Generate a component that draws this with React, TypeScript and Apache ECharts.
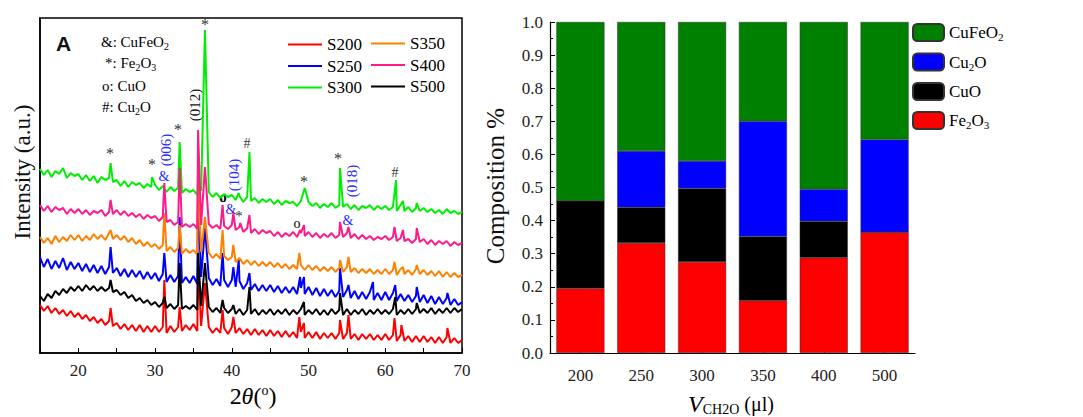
import React, { useEffect, useRef } from "react";
import * as echarts from "echarts";

// ---------- Panel A: XRD patterns (arbitrary intensity units, offset stacked) ----------
const X_START = 15;
const X_STEP = 0.5;
const GRID_X = Array.from({ length: 111 }, (_, i) => X_START + i * X_STEP);

const S300_BASE = [
  184,178,183,176,182,179,185,175,180,177,
  179,173,178,172,177,170,176,173,175,171,
  173,167,172,166,171,168,170,165,169,166,
  168,163,167,161,166,162,165,160,164,161,
  163,158,162,157,161,156,160,155,159,156,
  158,153,157,151,156,152,155,150,154,151,
  154,149,153,148,152,150,151,147,152,149,
  151,147,150,145,149,146,150,145,148,146,
  149,144,148,143,147,145,148,143,147,144,
  147,143,146,142,148,142,146,141,145,142,
  145,141,144,140,143,139,144,140,142,139,
  141,
];
const S300_PEAKS = [[24.2,190],[29.6,176],[33.2,211],[35.6,172],[36.5,323],[40.9,160],[42.3,201],[49.5,165],[54.1,185],[61.4,173],[62.3,152],[64.1,150]];

const S400_BASE = [
  148,142,147,141,146,143,145,139,144,140,
  144,139,143,138,142,140,143,137,141,139,
  143,138,142,137,140,136,139,134,138,135,
  137,132,136,131,133,128,131,126,129,126,
  129,124,128,125,129,125,128,124,127,124,
  128,123,126,121,125,120,124,119,123,120,
  122,117,121,116,120,117,121,116,120,117,
  121,116,120,115,119,116,120,115,118,116,
  120,115,119,114,118,114,117,113,116,114,
  117,113,116,112,115,112,114,110,114,111,
  114,109,113,108,112,109,112,107,111,108,
  110,
];
const S400_PEAKS = [[24.2,153],[31.2,170],[33.2,185],[35.6,223],[36.5,186],[38.8,148],[40.2,140],[41.1,130],[42.3,138],[48.9,123],[49.4,128],[54.1,131],[55.2,126],[61.2,126],[62.3,123],[64.1,125]];

const S350_BASE = [
  116,110,115,109,117,111,116,112,118,113,
  118,112,117,113,119,114,118,113,120,114,
  118,113,117,111,115,109,113,107,111,106,
  109,104,108,102,106,101,105,99,104,100,
  103,98,101,96,100,95,99,94,97,93,
  96,91,95,89,93,88,92,87,91,87,
  91,86,90,85,89,84,88,84,88,83,
  88,83,87,82,86,82,86,81,85,81,
  86,81,85,80,84,80,84,79,83,79,
  84,79,83,78,84,79,83,78,84,79,
  83,78,82,77,82,76,81,76,80,76,
  78,
];
const S350_PEAKS = [[24.2,123],[31.2,140],[33.2,128],[35.6,173],[36.5,136],[38.8,123],[40.2,108],[48.8,100],[54.1,93],[55.2,96],[61.2,91],[62.3,86],[64.1,88]];

const S250_BASE = [
  96,86,94,84,92,85,95,83,91,84,
  90,82,89,81,88,80,87,79,86,80,
  85,77,84,76,83,76,82,74,81,74,
  80,72,79,71,78,71,77,70,76,70,
  77,69,76,68,75,68,74,67,73,66,
  73,66,72,64,70,63,69,62,68,62,
  68,61,67,60,66,60,66,59,65,59,
  66,58,65,57,64,57,63,56,62,56,
  63,55,62,54,61,54,61,53,60,53,
  61,53,60,52,59,52,58,51,57,51,
  58,50,57,49,56,49,55,48,54,48,
  51,
];
const S250_PEAKS = [[24.2,106],[31.2,100],[33.2,136],[35.6,160],[36.5,125],[38.8,100],[40.2,86],[40.9,93],[42.3,80],[48.9,76],[49.4,76],[54.1,85],[55.2,68],[58.4,71],[61.3,68],[64.1,66],[68.1,60]];

const S500_BASE = [
  57,52,59,55,62,58,64,60,66,62,
  67,62,68,63,67,62,66,62,65,61,
  63,58,61,55,58,52,55,50,53,48,
  51,46,50,45,49,44,48,44,47,44,
  48,43,47,42,46,41,45,40,45,40,
  44,39,44,38,43,39,44,38,43,39,
  44,38,43,39,44,38,43,39,44,38,
  43,39,44,38,43,38,44,39,43,38,
  44,38,43,39,44,38,43,39,44,39,
  43,39,44,38,43,39,44,39,44,40,
  44,40,45,39,44,40,45,40,45,41,
  44,
];
const S500_PEAKS = [[24.2,73],[31.2,56],[33.2,90],[35.6,100],[36.5,90],[38.8,53],[40.2,48],[42.3,66],[49.4,51],[54.1,60],[61.3,56],[64.1,50]];

const S200_BASE = [
  48,42,47,40,45,39,43,37,42,36,
  40,34,38,32,36,30,34,28,32,27,
  30,24,29,23,28,22,28,21,27,21,
  27,21,26,20,27,21,26,22,28,23,
  29,22,27,21,26,20,25,20,25,19,
  26,20,25,19,24,18,24,18,23,17,
  23,17,22,16,22,16,21,15,21,15,
  21,15,21,14,20,15,20,14,20,14,
  20,14,19,13,19,14,19,13,18,13,
  19,13,18,12,18,12,17,11,17,11,
  17,11,16,10,16,10,16,10,15,10,
  13,
];
const S200_PEAKS = [[24.2,45],[31.2,73],[33.2,46],[35.6,90],[36.5,70],[38.8,43],[40.2,36],[48.8,36],[49.4,30],[54.1,33],[55.2,38],[61.2,35],[62.1,28],[68.1,25]];

const XRD_NAMES = ["S200", "S250", "S300", "S350", "S400", "S500"];
const XRD_COLORS = ["#FF0000", "#0000FF", "#00EE00", "#FF8000", "#FF1A8C", "#000000"];
const XRD_BASES = [S200_BASE, S250_BASE, S300_BASE, S350_BASE, S400_BASE, S500_BASE];
const XRD_PEAKS = [S200_PEAKS, S250_PEAKS, S300_PEAKS, S350_PEAKS, S400_PEAKS, S500_PEAKS];
const X_TICKS_A = [20, 30, 40, 50, 60, 70];

// ---------- Panel B: composition ----------
const VOLUMES = ["200", "250", "300", "350", "400", "500"];
const FE2O3 = [0.195, 0.332, 0.275, 0.158, 0.288, 0.365];
const CUO = [0.265, 0.108, 0.222, 0.194, 0.11, 0];
const CU2O = [0, 0.17, 0.083, 0.348, 0.097, 0.28];
const CUFEO2 = [0.54, 0.39, 0.42, 0.3, 0.505, 0.355];

const SERIF = '"Liberation Serif", serif';
const FAM = "Liberation Serif";

function mergePoints(base: number[], peaks: number[][]) {
  const pts: number[][] = GRID_X.map((x, i) => [x, base[i]]).filter(
    (p) => !peaks.some((k) => Math.abs(k[0] - p[0]) < 0.05)
  );
  return pts.concat(peaks.map((k) => [k[0], k[1]])).sort((a, b) => a[0] - b[0]);
}

function txt(x: number, y: number, text: string, color = "#000", size = 15, rot = 0, weight = "normal") {
  return {
    type: "text",
    x,
    y,
    rotation: rot,
    style: {
      text,
      fill: color,
      font: `${weight} ${size}px ${SERIF}`,
      align: "center",
      verticalAlign: "middle",
      textAlign: "center",
      textVerticalAlign: "middle",
    },
  };
}

const RICH_BASE = {
  n: { fontFamily: FAM, fontSize: 15, color: "#000" },
  s: { fontFamily: FAM, fontSize: 10, color: "#000", padding: [8, 0, 0, 0] },
};

export default function App() {
  const ref = useRef<HTMLDivElement>(null);
  useEffect(() => {
    if (!ref.current) return;
    const chart = echarts.init(ref.current, null, { renderer: "svg" });

    const xrdSeries = XRD_NAMES.map((name, i) => ({
      name,
      type: "line",
      xAxisIndex: 0,
      yAxisIndex: 0,
      symbol: "none",
      data: mergePoints(XRD_BASES[i], XRD_PEAKS[i]),
      lineStyle: { color: XRD_COLORS[i], width: 2 },
      itemStyle: { color: XRD_COLORS[i] },
      z: 2,
    }));

    const barCommon = {
      type: "bar",
      stack: "comp",
      xAxisIndex: 1,
      yAxisIndex: 1,
      barCategoryGap: "21%",
    };
    const barSeries = [
      { ...barCommon, name: "Fe2O3", data: FE2O3, itemStyle: { color: "#FF0000", borderColor: "#333", borderWidth: 0.5 } },
      { ...barCommon, name: "CuO", data: CUO, itemStyle: { color: "#000000", borderColor: "#333", borderWidth: 0.5 } },
      { ...barCommon, name: "Cu2O", data: CU2O, itemStyle: { color: "#0000FF", borderColor: "#333", borderWidth: 0.5 } },
      { ...barCommon, name: "CuFeO2", data: CUFEO2, itemStyle: { color: "#008000", borderColor: "#333", borderWidth: 0.5 } },
    ];

    const legendRich = {
      n: { fontFamily: FAM, fontSize: 17, color: "#000" },
      s: { fontFamily: FAM, fontSize: 11, color: "#000", padding: [9, 0, 0, 0] },
    };
    const legendFmt = (name: string) => {
      if (name === "CuFeO2") return "{n|CuFeO}{s|2}";
      if (name === "Cu2O") return "{n|Cu}{s|2}{n|O}";
      if (name === "Fe2O3") return "{n|Fe}{s|2}{n|O}{s|3}";
      return "{n|" + name + "}";
    };
    const xrdLegendCommon = {
      orient: "vertical",
      itemWidth: 34,
      itemHeight: 2,
      itemGap: 4.5,
      icon: "rect",
      textStyle: { fontFamily: FAM, fontSize: 17, lineHeight: 16, color: "#000" },
    };

    const option: any = {
      animation: false,
      backgroundColor: "#fff",
      textStyle: { fontFamily: FAM },
      grid: [
        { left: 40, top: 18, width: 422, height: 335, show: true, borderColor: "#000", borderWidth: 1.5, backgroundColor: "transparent" },
        { left: 550, top: 22, width: 365, height: 331 },
      ],
      legend: [
        { ...xrdLegendCommon, data: XRD_NAMES.slice(0, 3), left: 283, top: 31 },
        { ...xrdLegendCommon, data: XRD_NAMES.slice(3), left: 366, top: 30 },
        {
          data: ["CuFeO2", "Cu2O", "CuO", "Fe2O3"],
          orient: "vertical",
          left: 907,
          top: 18,
          itemWidth: 31,
          itemHeight: 17,
          itemGap: 10,
          formatter: legendFmt,
          textStyle: { fontFamily: FAM, fontSize: 17, color: "#000", rich: legendRich },
        },
      ],
      xAxis: [
        {
          type: "value",
          gridIndex: 0,
          min: 15,
          max: 70,
          interval: 5,
          axisLine: { show: true, lineStyle: { color: "#000", width: 1.5 } },
          axisTick: { show: true, inside: true, length: 5, lineStyle: { color: "#000" } },
          axisLabel: {
            fontFamily: FAM,
            fontSize: 17,
            color: "#222",
            margin: 9,
            formatter: (v: number) => (X_TICKS_A.indexOf(v) >= 0 ? String(v) : ""),
          },
          splitLine: { show: false },
        },
        {
          type: "category",
          gridIndex: 1,
          data: VOLUMES,
          axisLine: { show: true, lineStyle: { color: "#000", width: 1.2 } },
          axisTick: { show: true, inside: true, alignWithLabel: true, length: 4, lineStyle: { color: "#000" } },
          axisLabel: { fontFamily: FAM, fontSize: 17, color: "#222", margin: 14 },
          splitLine: { show: false },
        },
      ],
      yAxis: [
        {
          type: "value",
          gridIndex: 0,
          min: 0,
          max: 335,
          axisLine: { show: true, lineStyle: { color: "#000", width: 1.5 } },
          axisTick: { show: false },
          axisLabel: { show: false },
          splitLine: { show: false },
        },
        {
          type: "value",
          gridIndex: 1,
          min: 0,
          max: 1,
          interval: 0.1,
          axisLine: { show: true, lineStyle: { color: "#000", width: 1.2 } },
          axisTick: { show: true, inside: true, length: 5, lineStyle: { color: "#000" } },
          minorTick: { show: true, splitNumber: 2, length: 3, lineStyle: { color: "#000" } },
          axisLabel: { fontFamily: FAM, fontSize: 17, color: "#222", margin: 7, formatter: (v: number) => v.toFixed(1) },
          splitLine: { show: false },
        },
      ],
      series: [...xrdSeries, ...barSeries],
      graphic: [
        // panel letters
        { type: "text", x: 56, y: 33, style: { text: "A", fill: "#111", font: 'bold 21px "Liberation Sans"' } },
        { type: "text", x: 569, y: 37, style: { text: "B", fill: "#fff", font: 'bold 20px "Liberation Sans"' } },
        // phase key
        { type: "text", x: 101, y: 33, style: { text: "{n|&: CuFeO}{s|2}", rich: RICH_BASE, fill: "#000" } },
        { type: "text", x: 105, y: 54, style: { text: "{n|*: Fe}{s|2}{n|O}{s|3}", rich: RICH_BASE, fill: "#000" } },
        { type: "text", x: 102, y: 78, style: { text: "{n|o: CuO}", rich: RICH_BASE, fill: "#000" } },
        { type: "text", x: 102, y: 98, style: { text: "{n|#: Cu}{s|2}{n|O}", rich: RICH_BASE, fill: "#000" } },
        // peak annotations
        txt(110, 153, "*", "#333", 16),
        txt(152, 164, "*", "#333", 16),
        txt(164, 176, "&", "#2a2aff", 14),
        txt(166, 150, "(006)", "#2a2aff", 15, Math.PI / 2),
        txt(178, 129, "*", "#333", 16),
        txt(195, 105, "(012)", "#111", 15, Math.PI / 2),
        txt(205, 24, "*", "#333", 16),
        txt(223, 197, "o", "#000", 15, 0, "bold"),
        txt(234, 175, "(104)", "#2a2aff", 15, Math.PI / 2),
        txt(231, 209, "&", "#2a2aff", 14),
        txt(239, 216, "*", "#333", 15),
        txt(247, 143, "#", "#333", 14),
        txt(304, 181, "*", "#333", 16),
        txt(297, 223, "o", "#000", 14),
        txt(338, 158, "*", "#333", 16),
        txt(352, 181, "(018)", "#2a2aff", 15, Math.PI / 2),
        txt(348, 220, "&", "#2a2aff", 14),
        txt(395, 172, "#", "#333", 14),
        // axis titles
        txt(22, 172, "Intensity (a.u.)", "#111", 23, Math.PI / 2),
        {
          type: "text",
          x: 253,
          y: 396,
          style: {
            text: "{n|2}{i|θ}{n|(}{p|o}{n|)}",
            align: "center",
            verticalAlign: "middle",
            textAlign: "center",
            textVerticalAlign: "middle",
            rich: {
              n: { fontFamily: FAM, fontSize: 24, color: "#111" },
              i: { fontFamily: FAM, fontSize: 24, fontStyle: "italic", color: "#111" },
              p: { fontFamily: FAM, fontSize: 14, color: "#111", padding: [0, 0, 12, 0] },
            },
          },
        },
        txt(495, 186, "Composition %", "#111", 25, Math.PI / 2),
        {
          type: "text",
          x: 731,
          y: 404,
          style: {
            text: "{i|V}{s|CH2O}{n| (μl)}",
            align: "center",
            verticalAlign: "middle",
            textAlign: "center",
            textVerticalAlign: "middle",
            rich: {
              i: { fontFamily: FAM, fontSize: 24, fontStyle: "italic", color: "#111" },
              s: { fontFamily: FAM, fontSize: 14, color: "#111", padding: [10, 0, 0, 0] },
              n: { fontFamily: FAM, fontSize: 20, color: "#111" },
            },
          },
        },
      ],
    };

    chart.setOption(option);
    return () => chart.dispose();
  }, []);

  return (
    <div
      ref={ref}
      style={{ position: "fixed", left: 0, top: 0, width: 1083, height: 417, background: "#fff" }}
    />
  );
}
